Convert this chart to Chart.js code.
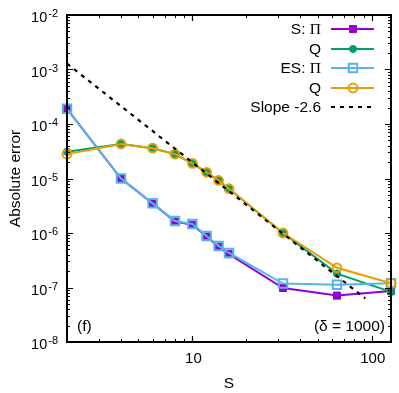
<!DOCTYPE html>
<html>
<head>
<meta charset="utf-8">
<script src="https://cdn.jsdelivr.net/npm/chart.js@4/dist/chart.umd.min.js"></script>
<style>
html,body{margin:0;padding:0;background:#fff;}
canvas{display:block;}
</style>
</head>
<body>
<canvas id="c" width="399" height="393"></canvas>
<script>
// ---- data ----
const sizes = [2, 4, 6, 8, 10, 12, 14, 16, 32, 64, 128];
const sPi  = [1.9e-4, 1.0e-5, 3.5e-6, 1.62e-6, 1.42e-6, 8.6e-7, 5.6e-7, 4.1e-7, 9.8e-8, 7.1e-8, 8.6e-8];
const sQ   = [3.1e-5, 4.3e-5, 3.6e-5, 2.8e-5, 1.9e-5, 1.3e-5, 9.2e-6, 6.5e-6, 1.0e-6, 1.8e-7, 8.3e-8];
const esPi = [1.9e-4, 1.0e-5, 3.5e-6, 1.66e-6, 1.46e-6, 8.8e-7, 5.8e-7, 4.3e-7, 1.18e-7, 1.12e-7, 1.2e-7];
const esQ  = [2.8e-5, 4.3e-5, 3.6e-5, 2.8e-5, 1.9e-5, 1.3e-5, 9.2e-6, 6.5e-6, 1.0e-6, 2.3e-7, 1.2e-7];
const slopeX = [2, 92];
const slopeY = [1.28e-3, 6.3e-8];
const seriesNames = ['S: Π', 'Q', 'ES: Π', 'Q', 'Slope -2.6'];
const yTickExponents = [-2, -3, -4, -5, -6, -7, -8];
const xTickLabels = [10, 100];
const xLabel = 'S';
const yLabel = 'Absolute error';
const panelTag = '(f)';
const panelNote = '(δ = 1000)';

const pts = (xs, ys) => xs.map((x, i) => ({x: x, y: ys[i]}));

const SANS = '"Liberation Sans", Arial, sans-serif';
const SERIF = '"Liberation Serif", "Times New Roman", serif';
const FS = 15.5;

const datasets = [
  {label: seriesNames[0], data: pts(sizes, sPi), borderColor: '#9400D3', backgroundColor: '#9400D3',
   borderWidth: 2, pointStyle: 'rect', pointRadius: 5, pointBorderWidth: 1, order: 5},
  {label: seriesNames[1], data: pts(sizes, sQ), borderColor: '#009E73', backgroundColor: '#009E73',
   borderWidth: 2, pointStyle: 'circle', pointRadius: 3.6, pointBorderWidth: 1, order: 4},
  {label: seriesNames[2], data: pts(sizes, esPi), borderColor: '#56B4E9', backgroundColor: 'rgba(0,0,0,0)',
   borderWidth: 2, pointStyle: 'rect', pointRadius: 6, pointBorderWidth: 2, order: 3},
  {label: seriesNames[3], data: pts(sizes, esQ), borderColor: '#E69F00', backgroundColor: 'rgba(0,0,0,0)',
   borderWidth: 2, pointStyle: 'circle', pointRadius: 4.4, pointBorderWidth: 2, order: 2},
  {label: seriesNames[4], data: pts(slopeX, slopeY), borderColor: '#000000', backgroundColor: '#000000',
   borderWidth: 2.2, borderDash: [4, 5], pointRadius: 0, order: 1}
];

function drawMixed(ctx, text, xRight, y, size) {
  // right-aligned text where Π is drawn in a serif face
  const parts = text.split('Π');
  const pieces = [];
  parts.forEach((p, i) => {
    if (p) pieces.push({t: p, f: size + 'px ' + SANS});
    if (i < parts.length - 1) pieces.push({t: 'Π', f: size + 'px ' + SERIF});
  });
  let w = 0;
  pieces.forEach(pc => { ctx.font = pc.f; pc.w = ctx.measureText(pc.t).width; w += pc.w; });
  let x = xRight - w;
  ctx.textAlign = 'left';
  pieces.forEach(pc => { ctx.font = pc.f; ctx.fillText(pc.t, x, y); x += pc.w; });
}

const framePlugin = {
  id: 'frame',
  afterDatasetsDraw(chart) {
    const ctx = chart.ctx;
    const a = chart.chartArea;
    const xs = chart.scales.x, ys = chart.scales.y;
    ctx.save();
    ctx.strokeStyle = '#000';
    // ticks (inward, mirrored)
    ctx.lineWidth = 1;
    ctx.beginPath();
    for (let e = -8; e < -2; e++) {
      for (let m = 2; m <= 9; m++) {
        const y = Math.round(ys.getPixelForValue(m * Math.pow(10, e))) + 0.5;
        ctx.moveTo(a.left, y); ctx.lineTo(a.left + 3, y);
        ctx.moveTo(a.right, y); ctx.lineTo(a.right - 3, y);
      }
    }
    [3,4,5,6,7,8,9,20,30,40,50,60,70,80,90].forEach(v => {
      const x = Math.round(xs.getPixelForValue(v)) + 0.5;
      ctx.moveTo(x, a.bottom); ctx.lineTo(x, a.bottom - 3);
      ctx.moveTo(x, a.top); ctx.lineTo(x, a.top + 3);
    });
    ctx.stroke();
    ctx.lineWidth = 1.2;
    ctx.beginPath();
    yTickExponents.forEach(e => {
      const y = Math.round(ys.getPixelForValue(Math.pow(10, e))) + 0.5;
      ctx.moveTo(a.left, y); ctx.lineTo(a.left + 6, y);
      ctx.moveTo(a.right, y); ctx.lineTo(a.right - 6, y);
    });
    xTickLabels.forEach(v => {
      const x = Math.round(xs.getPixelForValue(v)) + 0.5;
      ctx.moveTo(x, a.bottom); ctx.lineTo(x, a.bottom - 6);
      ctx.moveTo(x, a.top); ctx.lineTo(x, a.top + 6);
    });
    ctx.stroke();
    // border
    ctx.lineWidth = 2;
    ctx.strokeRect(a.left, a.top, a.right - a.left, a.bottom - a.top);

    // y tick labels 10^e
    ctx.fillStyle = '#000';
    ctx.textBaseline = 'alphabetic';
    yTickExponents.forEach(e => {
      const y = ys.getPixelForValue(Math.pow(10, e));
      ctx.font = '11px ' + SANS;
      const sup = String(e);
      const sw = ctx.measureText(sup).width;
      ctx.textAlign = 'right';
      ctx.fillText(sup, 58, y + 2);
      ctx.font = '14.5px ' + SANS;
      ctx.fillText('10', 58 - sw - 1, y + 7);
    });
    // x tick labels
    ctx.font = '15px ' + SANS;
    ctx.textAlign = 'center';
    xTickLabels.forEach(v => {
      ctx.fillText(String(v), xs.getPixelForValue(v) + 1, 363);
    });
    // axis titles
    ctx.font = FS + 'px ' + SANS;
    ctx.fillText(xLabel, (a.left + a.right) / 2, 388);
    ctx.save();
    ctx.translate(20, (a.top + a.bottom) / 2);
    ctx.rotate(-Math.PI / 2);
    ctx.textAlign = 'center';
    ctx.fillText(yLabel, 0, 0);
    ctx.restore();
    // panel annotations
    ctx.textAlign = 'left';
    ctx.fillText(panelTag, 77, 331);
    ctx.textAlign = 'right';
    ctx.fillText(panelNote, 385, 331);

    // legend
    const rows = [29, 49, 68, 88, 107];
    chart.data.datasets.forEach((ds, i) => {
      const y = rows[i];
      ctx.fillStyle = '#000';
      ctx.textBaseline = 'middle';
      drawMixed(ctx, ds.label, 321, y + 0.5, FS);
      ctx.strokeStyle = ds.borderColor;
      ctx.lineWidth = ds.borderWidth;
      ctx.setLineDash(ds.borderDash || []);
      ctx.beginPath();
      ctx.moveTo(331, y); ctx.lineTo(374, y);
      ctx.stroke();
      ctx.setLineDash([]);
      if (ds.pointRadius > 0) {
        ctx.fillStyle = ds.backgroundColor;
        ctx.strokeStyle = ds.borderColor;
        ctx.lineWidth = ds.pointBorderWidth;
        ctx.beginPath();
        if (ds.pointStyle === 'rect') {
          const s = ds.pointRadius * Math.SQRT1_2;
          ctx.rect(353 - s, y - s, 2 * s, 2 * s);
        } else {
          ctx.arc(353, y, ds.pointRadius, 0, Math.PI * 2);
        }
        ctx.fill();
        ctx.stroke();
      }
    });
    ctx.restore();
  }
};

new Chart(document.getElementById('c'), {
  type: 'line',
  data: {datasets: datasets},
  options: {
    responsive: false,
    animation: false,
    devicePixelRatio: 1,
    layout: {padding: {left: 67, right: 5, top: 15, bottom: 51}},
    elements: {line: {tension: 0}},
    datasets: {line: {clip: false}},
    scales: {
      x: {type: 'logarithmic', min: 2, max: 128, display: false},
      y: {type: 'logarithmic', min: 1e-8, max: 1e-2, display: false}
    },
    plugins: {legend: {display: false}, tooltip: {enabled: false}}
  },
  plugins: [framePlugin]
});
</script>
</body>
</html>
